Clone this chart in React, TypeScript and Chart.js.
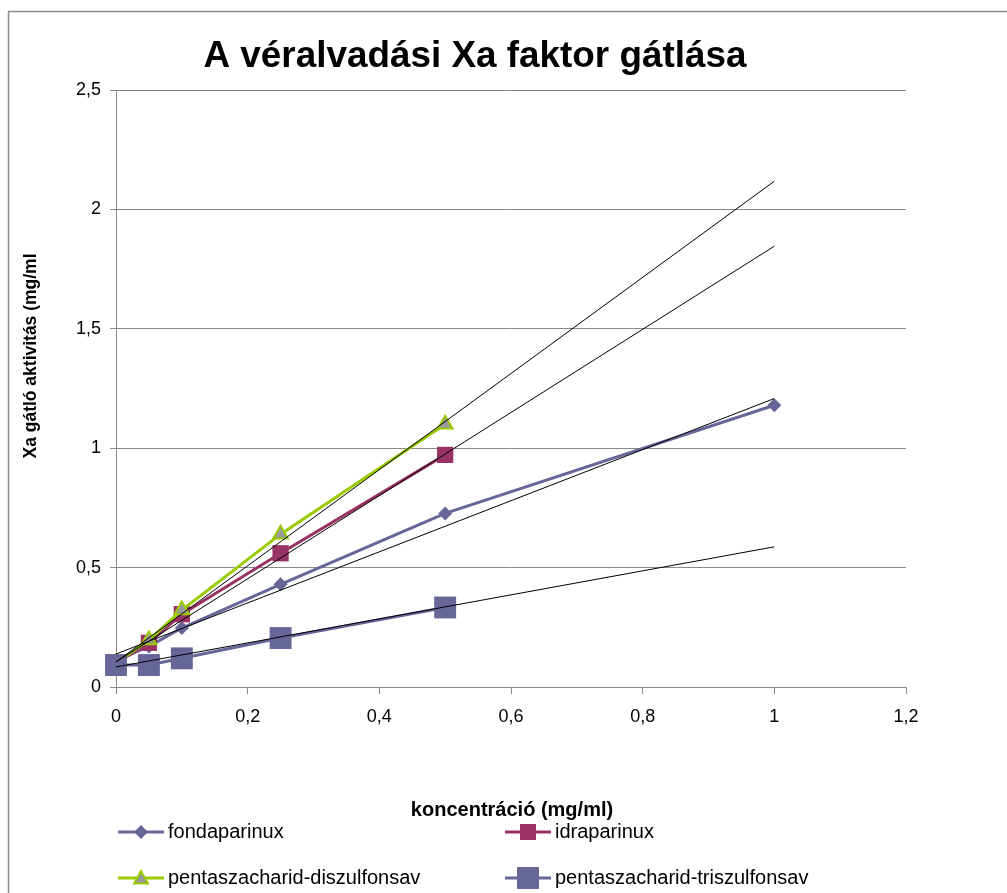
import React, { useEffect, useRef } from "react";
import { Chart, registerables } from "chart.js";

Chart.register(...registerables);

const concentrations = [0, 0.05, 0.1, 0.25, 0.5, 1];
const fondaparinux = [0.11, 0.17, 0.247, 0.43, 0.727, 1.18];
const idraparinux = [0.1, 0.185, 0.305, 0.56, 0.972];
const diszulfonsav = [0.1, 0.197, 0.322, 0.64, 1.1];
const triszulfonsav = [0.092, 0.092, 0.12, 0.205, 0.333];

const seriesNames = [
  "fondaparinux",
  "idraparinux",
  "pentaszacharid-diszulfonsav",
  "pentaszacharid-triszulfonsav",
];

// trendlines (value at x=0 and at x=1)
const trendX = [0, 1];
const trendStart = [0.138, 0.105, 0.105, 0.084];
const trendEnd = [1.208, 1.846, 2.118, 0.587];

const xTicks = [0, 0.2, 0.4, 0.6, 0.8, 1, 1.2];
const yTicks = [0, 0.5, 1, 1.5, 2, 2.5];

const title = "A véralvadási Xa faktor gátlása";
const xTitle = "koncentráció (mg/ml)";
const yTitle = "Xa gátló aktivitás (mg/ml";

const BLUE = "#666699";
const PINK = "#993366";
const GREEN = "#99CC00";
const GRAYFILL = "#999999";

const fmt = (v: number) => String(Math.round(v * 10) / 10).replace(".", ",");

function toPts(xs: number[], ys: number[]) {
  return ys.map((y, i) => ({ x: xs[i], y }));
}

function drawMarker(ctx: CanvasRenderingContext2D, kind: string, x: number, y: number, r: number, fill: string, stroke: string) {
  ctx.save();
  ctx.fillStyle = fill;
  ctx.strokeStyle = stroke;
  ctx.lineWidth = 1;
  ctx.beginPath();
  if (kind === "diamond") {
    ctx.moveTo(x, y - r);
    ctx.lineTo(x + r, y);
    ctx.lineTo(x, y + r);
    ctx.lineTo(x - r, y);
  } else if (kind === "square") {
    ctx.rect(x - r, y - r, 2 * r, 2 * r);
  } else {
    ctx.moveTo(x, y - r);
    ctx.lineTo(x + r, y + r * 0.8);
    ctx.lineTo(x - r, y + r * 0.8);
  }
  ctx.closePath();
  ctx.fill();
  if (kind === "triangle") {
    ctx.lineWidth = 2;
    ctx.stroke();
  }
  ctx.restore();
}

const decorPlugin = {
  id: "decor",
  beforeDraw(chart: any) {
    const ctx = chart.ctx as CanvasRenderingContext2D;
    ctx.save();
    ctx.fillStyle = "#ffffff";
    ctx.fillRect(0, 0, chart.width, chart.height);
    ctx.strokeStyle = "#8a8a8a";
    ctx.lineWidth = 1.5;
    ctx.beginPath();
    ctx.moveTo(8.5, chart.height + 5);
    ctx.lineTo(8.5, 11.5);
    ctx.lineTo(chart.width + 5, 11.5);
    ctx.stroke();
    ctx.restore();
  },
  afterDraw(chart: any) {
    const ctx = chart.ctx as CanvasRenderingContext2D;
    ctx.save();
    ctx.fillStyle = "#000";
    ctx.textAlign = "center";
    ctx.textBaseline = "alphabetic";
    ctx.font = "bold 37px 'Liberation Sans', Arial, sans-serif";
    ctx.fillText(title, 475, 67, 543);

    ctx.font = "bold 20px 'Liberation Sans', Arial, sans-serif";
    ctx.fillText(xTitle, 512, 816, 208);

    ctx.save();
    ctx.translate(36, 356);
    ctx.rotate(-Math.PI / 2);
    ctx.font = "bold 18px 'Liberation Sans', Arial, sans-serif";
    ctx.fillText(yTitle, 0, 0, 205);
    ctx.restore();

    // legend
    const items = [
      { x: 118, y: 832, color: BLUE, kind: "diamond", r: 7, fill: BLUE, stroke: BLUE },
      { x: 505, y: 832, color: PINK, kind: "square", r: 8, fill: PINK, stroke: PINK },
      { x: 118, y: 878, color: GREEN, kind: "triangle", r: 7, fill: GRAYFILL, stroke: GREEN },
      { x: 505, y: 878, color: BLUE, kind: "square", r: 11, fill: BLUE, stroke: BLUE },
    ];
    ctx.font = "20px 'Liberation Sans', Arial, sans-serif";
    ctx.textAlign = "left";
    ctx.textBaseline = "middle";
    items.forEach((it, i) => {
      ctx.strokeStyle = it.color;
      ctx.lineWidth = 3;
      ctx.beginPath();
      ctx.moveTo(it.x, it.y);
      ctx.lineTo(it.x + 46, it.y);
      ctx.stroke();
      drawMarker(ctx, it.kind, it.x + 23, it.y, it.r, it.fill, it.stroke);
      ctx.fillStyle = "#000";
      ctx.fillText(seriesNames[i], it.x + 50, it.y);
    });
    ctx.restore();
  },
};

export default function App() {
  const ref = useRef<HTMLCanvasElement | null>(null);
  useEffect(() => {
    document.body.style.margin = "0";
    const canvas = ref.current!;
    const trendDatasets = trendStart.map((s, i) => ({
      label: "trend " + (i + 1),
      data: toPts(trendX, [s, trendEnd[i]]),
      showLine: true,
      borderColor: "#000000",
      borderWidth: 1,
      pointRadius: 0,
      clip: false,
      order: 0,
    }));
    const chart = new Chart(canvas, {
      type: "scatter",
      data: {
        datasets: [
          {
            label: seriesNames[0],
            data: toPts(concentrations, fondaparinux),
            showLine: true,
            borderColor: BLUE,
            backgroundColor: BLUE,
            borderWidth: 3,
            pointStyle: "rectRot",
            pointRadius: 7,
            pointBorderWidth: 0,
            clip: false,
            order: 4,
          },
          {
            label: seriesNames[1],
            data: toPts(concentrations, idraparinux),
            showLine: true,
            borderColor: PINK,
            backgroundColor: PINK,
            borderWidth: 3,
            pointStyle: "rect",
            pointRadius: 11.5,
            pointBorderWidth: 0,
            clip: false,
            order: 3,
          },
          {
            label: seriesNames[2],
            data: toPts(concentrations, diszulfonsav),
            showLine: true,
            borderColor: GREEN,
            backgroundColor: GRAYFILL,
            pointBorderColor: GREEN,
            borderWidth: 3,
            pointStyle: "triangle",
            pointRadius: 8.5,
            pointBorderWidth: 2,
            clip: false,
            order: 2,
          },
          {
            label: seriesNames[3],
            data: toPts(concentrations, triszulfonsav),
            showLine: true,
            borderColor: BLUE,
            backgroundColor: BLUE,
            borderWidth: 3,
            pointStyle: "rect",
            pointRadius: 15.5,
            pointBorderWidth: 0,
            clip: false,
            order: 1,
          },
          ...trendDatasets,
        ] as any,
      },
      options: {
        responsive: false,
        animation: false,
        devicePixelRatio: 1,
        layout: { padding: { left: 0, top: 90, right: 101, bottom: 0 } },
        plugins: {
          legend: { display: false },
          title: { display: false },
          tooltip: { enabled: false },
        },
        elements: { line: { tension: 0 } },
        scales: {
          x: {
            type: "linear",
            min: xTicks[0],
            max: xTicks[xTicks.length - 1],
            afterFit: (s: any) => {
              s.height = 206;
            },
            afterBuildTicks: (s: any) => {
              s.ticks = xTicks.map((v) => ({ value: v }));
            },
            ticks: {
              callback: (v: any) => fmt(Number(v)),
              color: "#000",
              font: { family: "'Liberation Sans', Arial, sans-serif", size: 18 },
              padding: 12,
              maxRotation: 0,
              autoSkip: false,
            },
            grid: {
              drawOnChartArea: false,
              drawTicks: true,
              tickLength: 7,
              color: "#8a8a8a",
            },
            border: { color: "#8a8a8a", width: 1 },
          },
          y: {
            type: "linear",
            min: yTicks[0],
            max: yTicks[yTicks.length - 1],
            afterFit: (s: any) => {
              s.width = 116;
            },
            afterBuildTicks: (s: any) => {
              s.ticks = yTicks.map((v) => ({ value: v }));
            },
            ticks: {
              callback: (v: any) => fmt(Number(v)),
              color: "#000",
              font: { family: "'Liberation Sans', Arial, sans-serif", size: 18 },
              padding: 9,
            },
            grid: {
              drawOnChartArea: true,
              drawTicks: true,
              tickLength: 6,
              color: "#8a8a8a",
              lineWidth: 1,
            },
            border: { color: "#8a8a8a", width: 1 },
          },
        },
      } as any,
      plugins: [decorPlugin],
    });
    return () => chart.destroy();
  }, []);
  return <canvas ref={ref} width={1007} height={893} style={{ display: "block" }} />;
}
